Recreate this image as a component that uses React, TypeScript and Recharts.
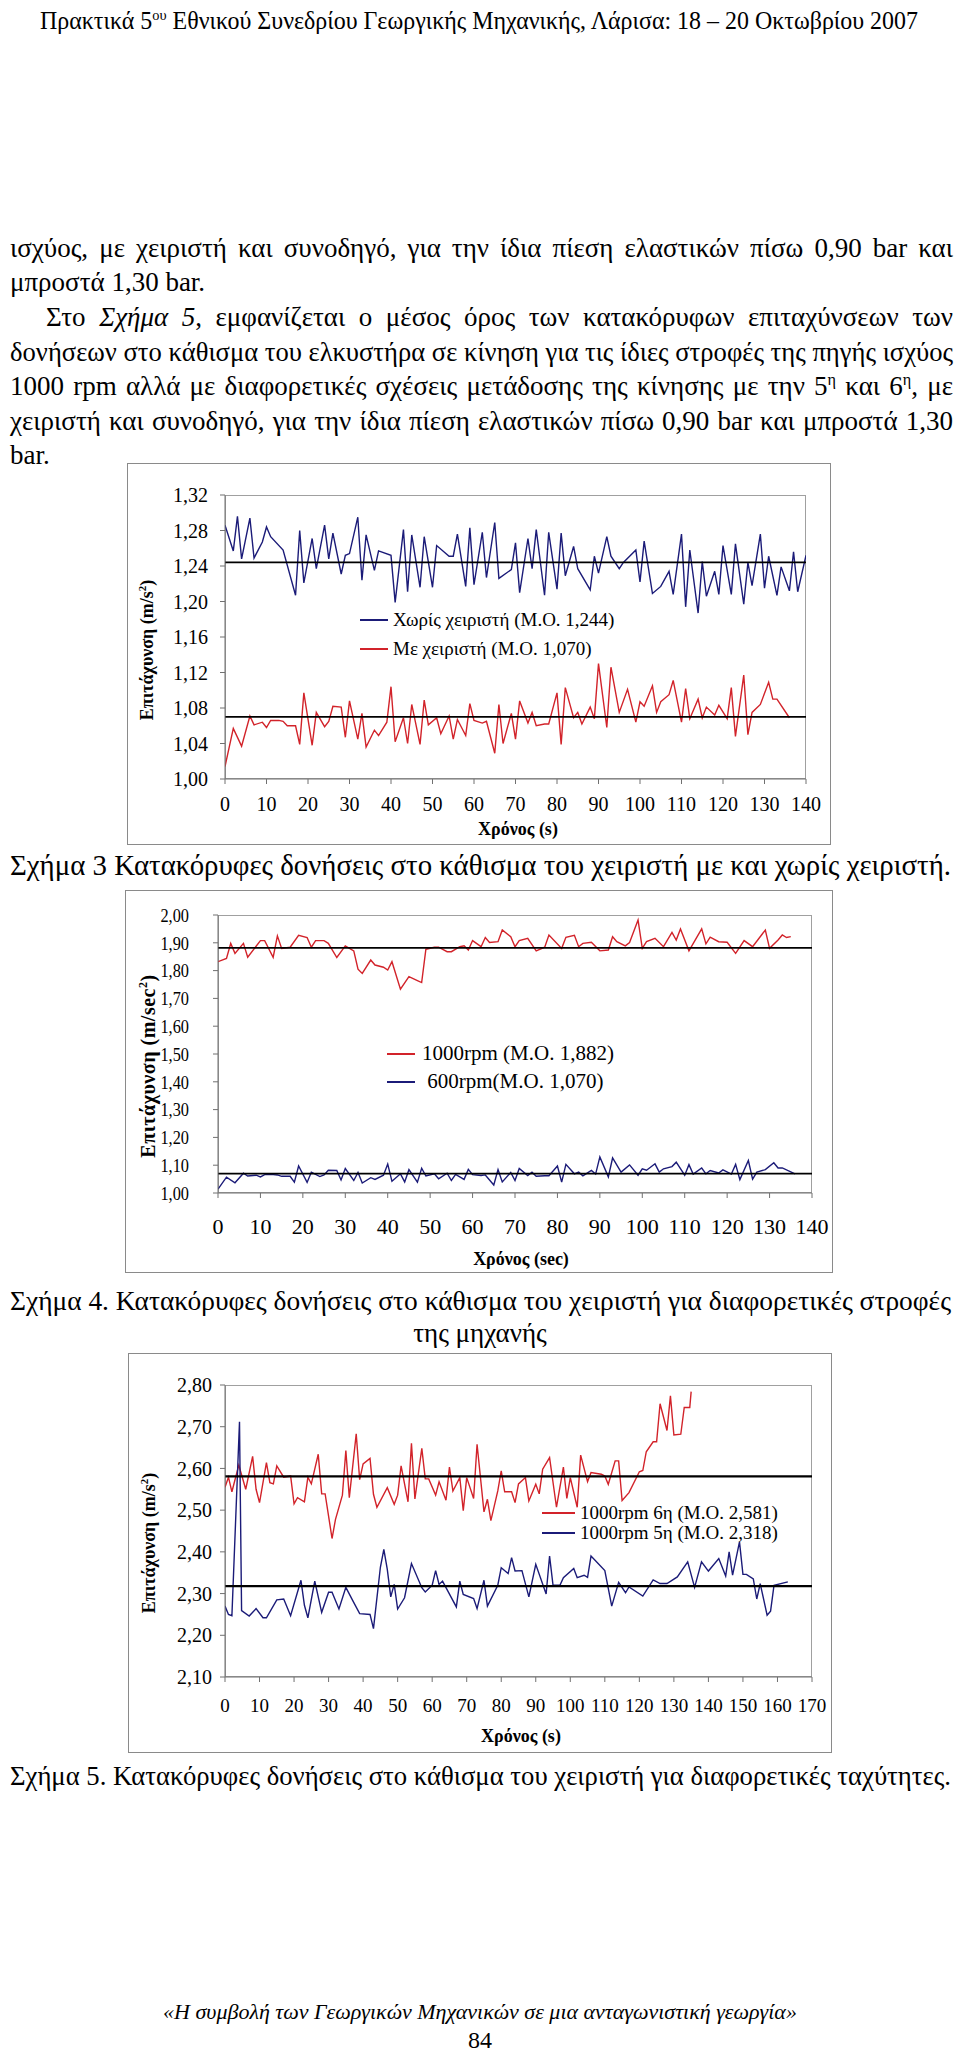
import React, { useLayoutEffect, useRef, useState } from 'react';
import { LineChart, Line, XAxis, YAxis, ReferenceLine } from 'recharts';

type Pt = [number, number];

// Σχήμα 3 : χωρίς / με χειριστή (time s, m/s2)
const fig3Without: Pt[] = [
  [0, 1.286], [2, 1.257], [3, 1.296], [4, 1.248], [6, 1.294], [7, 1.249], [9, 1.267], [10, 1.284], [11, 1.273], [14, 1.258],
  [17, 1.207], [18, 1.28], [19, 1.221], [21, 1.271], [22, 1.237], [24, 1.286], [25, 1.248], [26, 1.277], [28, 1.231], [29, 1.252],
  [30, 1.254], [32, 1.295], [33, 1.224], [34, 1.275], [36, 1.235], [37, 1.257], [40, 1.252], [41, 1.199], [43, 1.281], [44, 1.211],
  [45, 1.275], [47, 1.216], [48, 1.273], [50, 1.216], [51, 1.263], [54, 1.251], [55, 1.251], [56, 1.276], [58, 1.217], [59, 1.283],
  [60, 1.219], [62, 1.278], [63, 1.227], [65, 1.289], [66, 1.226], [69, 1.236], [70, 1.266], [71, 1.21], [73, 1.271], [74, 1.237],
  [75, 1.281], [77, 1.207], [78, 1.278], [80, 1.214], [81, 1.277], [82, 1.229], [84, 1.262], [85, 1.237], [88, 1.213], [89, 1.251],
  [90, 1.232], [92, 1.273], [93, 1.251], [95, 1.237], [96, 1.244], [99, 1.258], [100, 1.222], [101, 1.268], [103, 1.209], [105, 1.217],
  [107, 1.234], [108, 1.208], [110, 1.276], [111, 1.194], [112, 1.258], [114, 1.187], [115, 1.245], [116, 1.206], [118, 1.234], [119, 1.208],
  [120, 1.263], [122, 1.208], [123, 1.265], [125, 1.197], [126, 1.244], [127, 1.218], [129, 1.276], [130, 1.215], [131, 1.251], [133, 1.207],
  [134, 1.239], [136, 1.212], [137, 1.256], [138, 1.211], [140, 1.252],
];

const fig3With: Pt[] = [
  [0, 1.014], [2, 1.057], [4, 1.037], [6, 1.071], [7, 1.061], [9, 1.064], [10, 1.058], [11, 1.066], [13, 1.066], [14, 1.065],
  [15, 1.06], [17, 1.06], [18, 1.039], [19, 1.097], [21, 1.038], [22, 1.075], [24, 1.059], [25, 1.065], [26, 1.082], [28, 1.081],
  [29, 1.047], [30, 1.088], [32, 1.045], [33, 1.074], [34, 1.036], [36, 1.055], [37, 1.049], [39, 1.064], [40, 1.104], [41, 1.042],
  [43, 1.069], [44, 1.04], [45, 1.084], [47, 1.039], [48, 1.089], [49, 1.061], [51, 1.069], [52, 1.051], [54, 1.071], [55, 1.045],
  [56, 1.067], [58, 1.049], [59, 1.085], [60, 1.066], [62, 1.063], [63, 1.065], [65, 1.029], [66, 1.084], [67, 1.04], [69, 1.074],
  [70, 1.045], [71, 1.088], [73, 1.063], [74, 1.075], [75, 1.06], [77, 1.062], [78, 1.062], [80, 1.097], [81, 1.039], [82, 1.103],
  [84, 1.069], [85, 1.075], [86, 1.062], [88, 1.081], [89, 1.068], [90, 1.13], [92, 1.058], [93, 1.126], [95, 1.075], [97, 1.101],
  [99, 1.064], [100, 1.087], [101, 1.082], [103, 1.105], [104, 1.075], [105, 1.087], [107, 1.095], [108, 1.111], [110, 1.064], [111, 1.102],
  [112, 1.068], [114, 1.09], [115, 1.069], [116, 1.081], [118, 1.072], [119, 1.083], [121, 1.068], [122, 1.103], [123, 1.048], [125, 1.117],
  [126, 1.05], [127, 1.075], [129, 1.084], [131, 1.109], [132, 1.09], [133, 1.09], [136, 1.069],
];

const fig3Means = [1.244, 1.07];
const fig3XTicks = [0, 10, 20, 30, 40, 50, 60, 70, 80, 90, 100, 110, 120, 130, 140];
const fig3YTicks = [1.0, 1.04, 1.08, 1.12, 1.16, 1.2, 1.24, 1.28, 1.32];

// Σχήμα 4 : 1000 rpm / 600 rpm
const fig4Rpm1000: Pt[] = [
  [0, 1.832], [2, 1.844], [3, 1.898], [4, 1.862], [6, 1.898], [7, 1.848], [10, 1.908], [11, 1.908], [13, 1.848], [14, 1.925],
  [15, 1.88], [17, 1.884], [19, 1.927], [21, 1.919], [22, 1.884], [23, 1.908], [25, 1.908], [26, 1.898], [28, 1.847], [30, 1.889],
  [32, 1.871], [33, 1.805], [34, 1.79], [36, 1.838], [37, 1.82], [39, 1.812], [40, 1.802], [41, 1.832], [43, 1.733], [45, 1.778],
  [47, 1.764], [48, 1.757], [49, 1.877], [51, 1.884], [52, 1.884], [54, 1.868], [55, 1.868], [57, 1.886], [58, 1.889], [59, 1.874],
  [60, 1.908], [62, 1.886], [63, 1.919], [64, 1.901], [66, 1.904], [67, 1.946], [69, 1.922], [70, 1.886], [71, 1.908], [73, 1.916],
  [75, 1.871], [77, 1.884], [78, 1.928], [81, 1.88], [82, 1.92], [84, 1.927], [85, 1.886], [86, 1.898], [88, 1.902], [90, 1.871],
  [92, 1.874], [93, 1.922], [94, 1.904], [96, 1.889], [97, 1.901], [99, 1.982], [100, 1.88], [101, 1.904], [103, 1.916], [105, 1.886],
  [107, 1.937], [108, 1.91], [109, 1.95], [111, 1.871], [114, 1.95], [115, 1.896], [116, 1.92], [118, 1.904], [120, 1.902], [122, 1.862],
  [124, 1.908], [126, 1.886], [129, 1.946], [130, 1.88], [132, 1.91], [133, 1.928], [134, 1.919], [135, 1.922],
];
// the 600 rpm record is the same run as "με χειριστή" of Σχήμα 3 (M.O. 1,070)
const fig4Rpm600: Pt[] = fig3With;

const fig4Means = [1.882, 1.07];
const fig4XTicks = [0, 10, 20, 30, 40, 50, 60, 70, 80, 90, 100, 110, 120, 130, 140];
const fig4YTicks = [1.0, 1.1, 1.2, 1.3, 1.4, 1.5, 1.6, 1.7, 1.8, 1.9, 2.0];

// Σχήμα 5 : 6η / 5η ταχύτητα
const fig5Gear6: Pt[] = [
  [0, 2.555], [1, 2.579], [2, 2.544], [4, 2.608], [6, 2.55], [8, 2.629], [9, 2.55], [10, 2.518], [12, 2.614], [13, 2.566],
  [14, 2.563], [15, 2.606], [17, 2.579], [19, 2.582], [20, 2.515], [21, 2.53], [23, 2.52], [24, 2.579], [25, 2.563], [27, 2.634],
  [28, 2.539], [29, 2.539], [31, 2.432], [32, 2.478], [34, 2.536], [35, 2.643], [36, 2.53], [38, 2.683], [39, 2.573], [40, 2.611],
  [42, 2.624], [43, 2.538], [44, 2.507], [47, 2.554], [49, 2.514], [50, 2.536], [51, 2.606], [53, 2.52], [54, 2.66], [55, 2.527],
  [57, 2.648], [58, 2.575], [59, 2.575], [61, 2.536], [62, 2.568], [64, 2.524], [65, 2.603], [66, 2.546], [68, 2.578], [69, 2.499],
  [70, 2.578], [72, 2.528], [73, 2.658], [75, 2.496], [76, 2.526], [77, 2.475], [79, 2.546], [80, 2.594], [81, 2.544], [83, 2.544],
  [84, 2.518], [85, 2.563], [87, 2.578], [88, 2.522], [90, 2.562], [91, 2.539], [92, 2.598], [94, 2.626], [96, 2.507], [98, 2.603],
  [99, 2.528], [100, 2.578], [102, 2.507], [103, 2.632], [105, 2.568], [106, 2.59], [109, 2.586], [110, 2.582], [111, 2.562], [113, 2.618],
  [114, 2.618], [115, 2.523], [117, 2.542], [120, 2.592], [121, 2.595], [122, 2.64], [124, 2.664], [125, 2.664], [126, 2.755], [128, 2.691],
  [129, 2.774], [130, 2.68], [132, 2.682], [133, 2.746], [134.6, 2.746], [135, 2.784],
];

const fig5Gear5: Pt[] = [
  [0, 2.27], [1, 2.25], [2, 2.247], [4.2, 2.712], [4.8, 2.259], [7, 2.246], [9, 2.264], [11, 2.242], [12, 2.242], [15, 2.285],
  [17, 2.287], [19, 2.247], [22, 2.332], [23, 2.272], [24, 2.242], [26, 2.33], [28, 2.255], [30, 2.303], [31, 2.303], [33, 2.263],
  [35, 2.315], [37, 2.283], [39, 2.252], [42, 2.25], [43, 2.216], [45, 2.363], [46, 2.406], [47, 2.358], [48, 2.292], [49, 2.322],
  [50, 2.263], [52, 2.29], [54, 2.372], [57, 2.314], [58, 2.304], [60, 2.32], [61, 2.355], [62, 2.322], [63, 2.33], [67, 2.268],
  [68, 2.33], [69, 2.298], [72, 2.288], [73, 2.264], [75, 2.332], [76, 2.27], [79, 2.32], [80, 2.362], [82, 2.348], [83, 2.386],
  [84, 2.354], [86, 2.355], [88, 2.292], [90, 2.37], [93, 2.299], [94, 2.39], [95, 2.32], [97, 2.32], [98, 2.338], [101, 2.36],
  [102, 2.338], [104, 2.344], [105, 2.339], [106, 2.39], [110, 2.355], [112, 2.27], [114, 2.327], [116, 2.302], [117, 2.316], [121, 2.294],
  [124, 2.333], [126, 2.324], [128, 2.324], [131, 2.34], [134, 2.376], [136, 2.315], [138, 2.376], [140, 2.354], [143, 2.384], [145, 2.342],
  [146, 2.4], [147, 2.344], [149, 2.424], [150, 2.346], [151, 2.346], [153, 2.335], [154, 2.287], [155, 2.324], [157, 2.248], [158, 2.258],
  [159, 2.32], [163, 2.328],
];

const fig5Means = [2.581, 2.318];
const fig5XTicks = [0, 10, 20, 30, 40, 50, 60, 70, 80, 90, 100, 110, 120, 130, 140, 150, 160, 170];
const fig5YTicks = [2.1, 2.2, 2.3, 2.4, 2.5, 2.6, 2.7, 2.8];

const BLUE = '#1b1b78';
const RED = '#d2232a';
const FONT = '"Liberation Serif", "Times New Roman", serif';

const comma = (v: number) => v.toFixed(2).replace('.', ',');

interface Series {
  name: string;
  data: Pt[];
  color: string;
}

interface ChartProps {
  plot: { x0: number; x1: number; y0: number; y1: number };
  xDomain: [number, number];
  xTicks: number[];
  yDomain: [number, number];
  yTicks: number[];
  series: Series[];
  means: number[];
  xFont: number;
  yFont: number;
  yScaleX?: number;
  yGap: number;
  xGap: number;
  meanWidth: number;
}

// y tick label, optionally narrowed like the squeezed figure in the print
const YTick = (props: any) => {
  const { x, y, payload, fontSize, sx } = props;
  return (
    <g transform={`translate(${x},${y})`}>
      <text x={0} y={0} dy="0.355em" textAnchor="end" fill="#000" fontFamily={FONT} fontSize={fontSize} transform={`scale(${sx},1)`}>
        {comma(payload.value)}
      </text>
    </g>
  );
};

const Chart: React.FC<ChartProps> = ({ plot, xDomain, xTicks, yDomain, yTicks, series, means, xFont, yFont, yScaleX = 1, yGap, xGap, meanWidth }) => {
  const YW = 60;
  const XH = 30;
  return (
    <>
      <div
        style={{
          position: 'absolute',
          left: plot.x0,
          top: plot.y0,
          width: plot.x1 - plot.x0,
          height: plot.y1 - plot.y0,
          border: '1px solid #a0a0a0',
          boxSizing: 'border-box',
        }}
      />
      <div style={{ position: 'absolute', left: 0, top: plot.y0 - 10 }}>
        <LineChart
          width={960}
          height={plot.y1 - plot.y0 + 70}
          margin={{ top: 10, right: 960 - plot.x1, bottom: 60 - XH, left: plot.x0 - YW }}
        >
          <XAxis
            type="number"
            dataKey="t"
            domain={xDomain}
            ticks={xTicks}
            interval={0}
            allowDataOverflow
            height={XH}
            stroke="#707070"
            tickSize={5}
            tickMargin={xGap}
            tick={{ fill: '#000', fontFamily: FONT, fontSize: xFont }}
          />
          <YAxis
            type="number"
            domain={yDomain}
            ticks={yTicks}
            interval={0}
            allowDataOverflow
            width={YW}
            stroke="#707070"
            tickSize={5}
            tickMargin={yGap}
            tick={<YTick fontSize={yFont} sx={yScaleX} />}
          />
          {series.map((s) => (
            <Line
              key={s.name}
              name={s.name}
              data={s.data.map(([t, v]) => ({ t, v }))}
              dataKey="v"
              type="linear"
              stroke={s.color}
              strokeWidth={1.4}
              dot={false}
              activeDot={false}
              isAnimationActive={false}
            />
          ))}
          {means.map((m) => (
            <ReferenceLine key={m} y={m} stroke="#000" strokeWidth={meanWidth} />
          ))}
        </LineChart>
      </div>
    </>
  );
};

const Txt: React.FC<{ x: number; cy: number; w: number; size: number; align?: any; style?: React.CSSProperties; children: React.ReactNode }> = ({
  x,
  cy,
  w,
  size,
  align = 'left',
  style,
  children,
}) => (
  <div
    style={{
      position: 'absolute',
      left: x,
      top: cy - size * 0.6,
      width: w,
      fontSize: size,
      lineHeight: `${size * 1.2}px`,
      textAlign: align,
      whiteSpace: 'nowrap',
      ...style,
    }}
  >
    {children}
  </div>
);

// one line of print set to an exact width: spaces are widened (justify) or the line is scaled
const FitLine: React.FC<{ x: number; cy: number; w: number; size: number; mode?: 'justify' | 'scale'; style?: React.CSSProperties; children: React.ReactNode }> = ({
  x,
  cy,
  w,
  size,
  mode = 'justify',
  style,
  children,
}) => {
  const ref = useRef<HTMLSpanElement>(null);
  const [fit, setFit] = useState({ ws: 0, sx: 1 });
  useLayoutEffect(() => {
    const el = ref.current;
    if (!el) return;
    const natural = el.getBoundingClientRect().width;
    const spaces = (el.textContent || '').split(' ').length - 1;
    if (mode === 'scale' || natural > w || spaces === 0) setFit({ ws: 0, sx: w / natural });
    else setFit({ ws: (w - natural) / spaces, sx: 1 });
  }, []);
  return (
    <div style={{ position: 'absolute', left: x, top: cy - size * 0.6, fontSize: size, lineHeight: `${size * 1.2}px`, whiteSpace: 'nowrap', ...style }}>
      <span
        ref={ref}
        style={{ display: 'inline-block', wordSpacing: fit.ws, transform: `scaleX(${fit.sx})`, transformOrigin: 'left center' }}
      >
        {children}
      </span>
    </div>
  );
};

const Box: React.FC<{ l: number; t: number; r: number; b: number }> = ({ l, t, r, b }) => (
  <div
    style={{
      position: 'absolute',
      left: l,
      top: t,
      width: r - l,
      height: b - t,
      border: '1.5px solid #8a8a8a',
      boxSizing: 'border-box',
    }}
  />
);

const LegendRow: React.FC<{ x: number; cy: number; lineW: number; gap: number; color: string; size: number; text: string }> = ({
  x,
  cy,
  lineW,
  gap,
  color,
  size,
  text,
}) => (
  <>
    <div style={{ position: 'absolute', left: x, top: cy - 1, width: lineW, height: 2, background: color }} />
    <Txt x={x + lineW + gap} cy={cy} w={320} size={size} style={{ whiteSpace: 'pre' }}>
      {text}
    </Txt>
  </>
);

const YTitle: React.FC<{ cx: number; cy: number; size: number; spacing?: number; children: React.ReactNode }> = ({ cx, cy, size, spacing = 0, children }) => (
  <div
    style={{
      position: 'absolute',
      left: cx,
      top: cy,
      fontSize: size,
      lineHeight: `${size * 1.2}px`,
      fontWeight: 'bold',
      letterSpacing: spacing,
      whiteSpace: 'nowrap',
      transform: 'translate(-50%, -50%) rotate(-90deg)',
    }}
  >
    {children}
  </div>
);

const sup: React.CSSProperties = { fontSize: '0.6em', verticalAlign: 'super', lineHeight: 0 };

export default function App() {
  const bodyY = [248, 282.6, 317.2, 351.8, 386.4, 421, 455.6];
  const BODY = 27;
  return (
    <div
      style={{
        position: 'absolute',
        left: 0,
        top: 0,
        width: 960,
        height: 2058,
        background: '#fff',
        fontFamily: FONT,
        color: '#000',
        overflow: 'hidden',
      }}
    >
      <FitLine x={40} cy={21} w={878} size={25} mode="scale">
        Πρακτικά 5<span style={sup}>ου</span> Εθνικού Συνεδρίου Γεωργικής Μηχανικής, Λάρισα: 18 – 20 Οκτωβρίου 2007
      </FitLine>

      <FitLine x={10} cy={bodyY[0]} w={943} size={BODY}>
        ισχύος, με χειριστή και συνοδηγό, για την ίδια πίεση ελαστικών πίσω 0,90 bar και
      </FitLine>
      <Txt x={10} cy={bodyY[1]} w={943} size={BODY}>
        μπροστά 1,30 bar.
      </Txt>
      <FitLine x={46} cy={bodyY[2]} w={907} size={BODY}>
        Στο <i>Σχήμα 5</i>, εμφανίζεται ο μέσος όρος των κατακόρυφων επιταχύνσεων των
      </FitLine>
      <FitLine x={10} cy={bodyY[3]} w={943} size={BODY}>
        δονήσεων στο κάθισμα του ελκυστήρα σε κίνηση για τις ίδιες στροφές της πηγής ισχύος
      </FitLine>
      <FitLine x={10} cy={bodyY[4]} w={943} size={BODY}>
        1000 rpm αλλά με διαφορετικές σχέσεις μετάδοσης της κίνησης με την 5<span style={sup}>η</span> και 6
        <span style={sup}>η</span>, με
      </FitLine>
      <FitLine x={10} cy={bodyY[5]} w={943} size={BODY}>
        χειριστή και συνοδηγό, για την ίδια πίεση ελαστικών πίσω 0,90 bar και μπροστά 1,30
      </FitLine>
      <Txt x={10} cy={bodyY[6]} w={943} size={BODY}>
        bar.
      </Txt>

      {/* Σχήμα 3 */}
      <Box l={127} t={463} r={831} b={845} />
      <Chart
        plot={{ x0: 225, x1: 806, y0: 495, y1: 779 }}
        xDomain={[0, 140]}
        xTicks={fig3XTicks}
        yDomain={[1.0, 1.32]}
        yTicks={fig3YTicks}
        series={[
          { name: 'Χωρίς χειριστή (Μ.Ο. 1,244)', data: fig3Without, color: BLUE },
          { name: 'Με χειριστή (Μ.Ο. 1,070)', data: fig3With, color: RED },
        ]}
        means={fig3Means}
        xFont={20}
        yFont={20}
        yGap={12}
        xGap={13}
        meanWidth={1.8}
      />
      <LegendRow x={360} cy={620} lineW={28} gap={5} color={BLUE} size={19} text="Χωρίς χειριστή (Μ.Ο. 1,244)" />
      <LegendRow x={360} cy={649} lineW={28} gap={5} color={RED} size={19} text="Με χειριστή (Μ.Ο. 1,070)" />
      <YTitle cx={148} cy={650} size={18}>
        Επιτάχυνση (m/s<span style={sup}>2</span>)
      </YTitle>
      <Txt x={368} cy={830} w={300} size={18} align="center" style={{ fontWeight: 'bold' }}>
        Χρόνος (s)
      </Txt>
      <FitLine x={10} cy={865} w={941} size={29} mode="scale">
        Σχήμα 3 Κατακόρυφες δονήσεις στο κάθισμα του χειριστή με και χωρίς χειριστή.
      </FitLine>

      {/* Σχήμα 4 */}
      <Box l={125} t={890} r={833} b={1273} />
      <Chart
        plot={{ x0: 218, x1: 812, y0: 915, y1: 1193 }}
        xDomain={[0, 140]}
        xTicks={fig4XTicks}
        yDomain={[1.0, 2.0]}
        yTicks={fig4YTicks}
        series={[
          { name: '1000rpm (Μ.Ο. 1,882)', data: fig4Rpm1000, color: RED },
          { name: '600rpm(Μ.Ο. 1,070)', data: fig4Rpm600, color: BLUE },
        ]}
        means={fig4Means}
        xFont={22}
        yFont={19}
        yScaleX={0.86}
        yGap={24}
        xGap={20}
        meanWidth={1.8}
      />
      <LegendRow x={387} cy={1054} lineW={28} gap={7} color={RED} size={21} text="1000rpm (Μ.Ο. 1,882)" />
      <LegendRow x={387} cy={1082} lineW={28} gap={7} color={BLUE} size={21} text=" 600rpm(Μ.Ο. 1,070)" />
      <YTitle cx={148} cy={1066} size={20} spacing={0.5}>
        Επιτάχυνση (m/sec<span style={sup}>2</span>)
      </YTitle>
      <Txt x={371} cy={1260} w={300} size={18} align="center" style={{ fontWeight: 'bold' }}>
        Χρόνος (sec)
      </Txt>
      <FitLine x={10} cy={1301} w={941} size={BODY} mode="scale">
        Σχήμα 4. Κατακόρυφες δονήσεις στο κάθισμα του χειριστή για διαφορετικές στροφές
      </FitLine>
      <Txt x={0} cy={1333} w={960} size={BODY} align="center">
        της μηχανής
      </Txt>

      {/* Σχήμα 5 */}
      <Box l={128} t={1353} r={832} b={1753} />
      <Chart
        plot={{ x0: 225, x1: 812, y0: 1385, y1: 1677 }}
        xDomain={[0, 170]}
        xTicks={fig5XTicks}
        yDomain={[2.1, 2.8]}
        yTicks={fig5YTicks}
        series={[
          { name: '1000rpm 6η (Μ.Ο. 2,581)', data: fig5Gear6, color: RED },
          { name: '1000rpm 5η (Μ.Ο. 2,318)', data: fig5Gear5, color: BLUE },
        ]}
        means={fig5Means}
        xFont={19}
        yFont={20}
        yGap={8}
        xGap={17}
        meanWidth={2.2}
      />
      <LegendRow x={542} cy={1513} lineW={33} gap={5} color={RED} size={19} text="1000rpm 6η (Μ.Ο. 2,581)" />
      <LegendRow x={542} cy={1533} lineW={33} gap={5} color={BLUE} size={19} text="1000rpm 5η (Μ.Ο. 2,318)" />
      <YTitle cx={150} cy={1543} size={18}>
        Επιτάχυνση (m/s<span style={sup}>2</span>)
      </YTitle>
      <Txt x={371} cy={1737} w={300} size={18} align="center" style={{ fontWeight: 'bold' }}>
        Χρόνος (s)
      </Txt>
      <FitLine x={10} cy={1776} w={941} size={BODY} mode="scale">
        Σχήμα 5. Κατακόρυφες δονήσεις στο κάθισμα του χειριστή για διαφορετικές ταχύτητες.
      </FitLine>

      <Txt x={0} cy={2012} w={960} size={22} align="center" style={{ fontStyle: 'italic' }}>
        «Η συμβολή των Γεωργικών Μηχανικών σε μια ανταγωνιστική γεωργία»
      </Txt>
      <Txt x={0} cy={2040} w={960} size={24} align="center">
        84
      </Txt>
    </div>
  );
}
